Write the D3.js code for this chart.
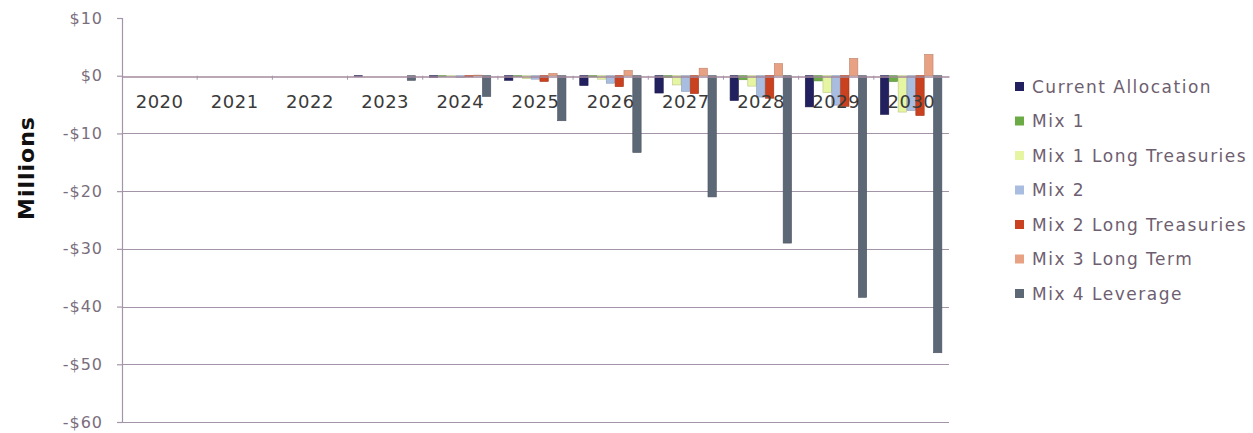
<!DOCTYPE html>
<html>
<head>
<meta charset="utf-8">
<script src="https://cdn.jsdelivr.net/npm/d3@7"></script>
<style>
  html, body { margin: 0; padding: 0; background: #fff; }
  svg { display: block; }
</style>
</head>
<body>
<svg id="chart" width="1253" height="433"></svg>
<script>
// Projected change in funding position by year, $ millions
const years = ["2020", "2021", "2022", "2023", "2024", "2025", "2026", "2027", "2028", "2029", "2030"];
const seriesNames = ["Current Allocation", "Mix 1", "Mix 1 Long Treasuries", "Mix 2",
                     "Mix 2 Long Treasuries", "Mix 3 Long Term", "Mix 4 Leverage"];
const seriesColors = ["#22205e", "#6bab45", "#e6f5a2", "#a9bde0", "#c9411f", "#e9a184", "#5d6877"];

const currentAllocation = [0, 0, 0, -0.1, -0.3, -0.8, -1.7, -3.0, -4.3, -5.4, -6.7];
const mix1              = [0, 0, 0, 0, -0.1, -0.1, -0.2, -0.3, -0.7, -0.9, -1.0];
const mix1LongTreas     = [0, 0, 0, 0, -0.1, -0.5, -0.6, -1.6, -1.8, -2.9, -6.3];
const mix2              = [0, 0, 0, 0, -0.3, -0.6, -1.3, -2.7, -3.7, -5.1, -6.0];
const mix2LongTreas     = [0, 0, 0, 0, -0.2, -1.0, -1.9, -3.1, -3.9, -5.3, -6.9];
const mix3LongTerm      = [0, 0, 0, 0, 0.1, 0.4, 0.9, 1.3, 2.1, 3.0, 3.7];
const mix4Leverage      = [0, 0, 0, -0.8, -3.6, -7.8, -13.3, -21.0, -29.0, -38.4, -48.0];
const seriesValues = [currentAllocation, mix1, mix1LongTreas, mix2, mix2LongTreas, mix3LongTerm, mix4Leverage];

const yTicks = [10, 0, -10, -20, -30, -40, -50, -60];
const yLabel = "Millions";

const svg = d3.select("#chart");
const plot = { left: 122, right: 949, top: 18, bottom: 422 };

const x = d3.scaleBand().domain(years).range([plot.left, plot.right]).paddingInner(0).paddingOuter(0);
const y = d3.scaleLinear().domain([-60, 10]).range([plot.bottom, plot.top]);

// Clustered bars: 7 bars plus a 150% gap per category
const barW = x.bandwidth() / 8.5;
const x1 = d3.scaleBand().domain(seriesNames)
  .range([barW * 0.75, x.bandwidth() - barW * 0.75]).paddingInner(0).paddingOuter(0);

const gridColor = "#a494a8";
const labelColor = "#7a6e7c";
const fontFamily = "'DejaVu Sans', Verdana, sans-serif";

// Horizontal gridlines below zero
svg.append("g")
  .selectAll("line")
  .data(yTicks.filter(t => t < 0))
  .join("line")
  .attr("x1", plot.left).attr("x2", plot.right)
  .attr("y1", d => Math.round(y(d)) + 0.5).attr("y2", d => Math.round(y(d)) + 0.5)
  .attr("stroke", gridColor).attr("stroke-width", 1.2);

// Bars
const barData = [];
seriesNames.forEach((name, si) => {
  years.forEach((yr, yi) => {
    barData.push({ series: name, year: yr, value: seriesValues[si][yi], color: seriesColors[si] });
  });
});

svg.append("g")
  .selectAll("rect")
  .data(barData.filter(d => d.value !== 0))
  .join("rect")
  .attr("x", d => x(d.year) + x1(d.series))
  .attr("width", x1.bandwidth() - 0.5)
  .attr("y", d => y(Math.max(0, d.value)))
  .attr("height", d => Math.abs(y(d.value) - y(0)))
  .attr("fill", d => d.color)
  .attr("stroke", d => d3.color(d.color).darker(0.6))
  .attr("stroke-width", 0.6);

// Y axis
const yAxis = d3.axisLeft(y).tickValues(yTicks).tickSize(5).tickPadding(14)
  .tickFormat(d => (d < 0 ? "-" : "") + "$" + Math.abs(d));
const yG = svg.append("g").attr("transform", `translate(${plot.left},0)`).call(yAxis);
yG.select(".domain").attr("stroke", gridColor).attr("stroke-width", 1.2);
yG.selectAll(".tick line").attr("stroke", gridColor).attr("stroke-width", 1.2);
yG.selectAll(".tick text")
  .attr("fill", labelColor)
  .style("font-family", fontFamily)
  .style("font-size", "16px")
  .style("letter-spacing", "1px");

// X axis along zero
const xAxis = d3.axisBottom(x).tickSize(0).tickPadding(19);
const xG = svg.append("g").attr("transform", `translate(0,${Math.round(y(0)) + 0.5})`).call(xAxis);
xG.select(".domain").attr("stroke", "#a48a9c").attr("stroke-width", 1.4);
xG.selectAll(".tick text")
  .attr("fill", "#3a3a3a")
  .style("font-family", fontFamily)
  .style("font-size", "18px")
  .style("letter-spacing", "0.5px");

// Category boundary tick marks
svg.append("g")
  .selectAll("line")
  .data(years.slice(1))
  .join("line")
  .attr("x1", d => x(d)).attr("x2", d => x(d))
  .attr("y1", y(0)).attr("y2", y(0) + 4)
  .attr("stroke", gridColor).attr("stroke-width", 1);

// Axis title
svg.append("text")
  .attr("transform", `translate(34,168) rotate(-90)`)
  .attr("text-anchor", "middle")
  .attr("fill", "#111")
  .style("font-family", fontFamily)
  .style("font-weight", "bold")
  .style("font-size", "22px")
  .style("letter-spacing", "1px")
  .text(yLabel);

// Legend
const legend = svg.append("g").attr("transform", "translate(1015,87)");
const rows = legend.selectAll("g")
  .data(seriesNames)
  .join("g")
  .attr("transform", (d, i) => `translate(0,${i * 34.5})`);
rows.append("rect")
  .attr("x", 0).attr("y", -5).attr("width", 9).attr("height", 9)
  .attr("fill", (d, i) => seriesColors[i]);
rows.append("text")
  .attr("x", 17).attr("y", 0).attr("dy", "0.35em")
  .attr("fill", "#6e5e70")
  .style("font-family", fontFamily)
  .style("font-size", "17px")
  .style("letter-spacing", "1.5px")
  .text(d => d);
</script>
</body>
</html>
